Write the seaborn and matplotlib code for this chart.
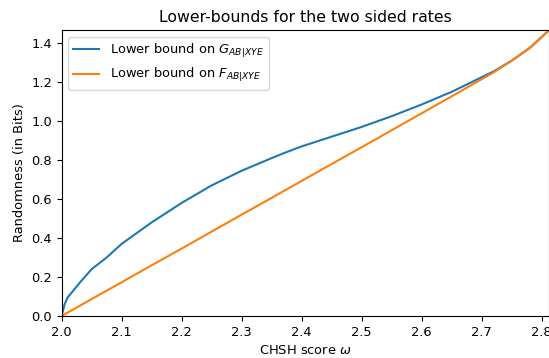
import numpy as np
import pandas as pd
import seaborn as sns
import matplotlib
matplotlib.use('Agg')
import matplotlib.pyplot as plt

# CHSH score samples and lower bounds
chsh = [2.0, 2.005, 2.01, 2.03, 2.05, 2.075, 2.1, 2.15, 2.2, 2.25, 2.3, 2.35, 2.37,
        2.4, 2.45, 2.5, 2.55, 2.6, 2.65, 2.7, 2.72, 2.75, 2.78, 2.81, 2.828]
g_bound = [0.0, 0.06, 0.095, 0.17, 0.24, 0.30, 0.37, 0.48, 0.58, 0.67, 0.745, 0.81, 0.835,
           0.87, 0.92, 0.97, 1.025, 1.085, 1.15, 1.225, 1.255, 1.31, 1.375, 1.46, 1.51]
f_bound = [0.0, 0.0087, 0.0173, 0.052, 0.087, 0.13, 0.173, 0.26, 0.346, 0.433, 0.52, 0.606, 0.641,
           0.693, 0.78, 0.866, 0.953, 1.04, 1.127, 1.215, 1.25, 1.31, 1.375, 1.46, 1.51]

df = pd.DataFrame({
    'omega': chsh * 2,
    'rand': g_bound + f_bound,
    'which': [r'Lower bound on $G_{AB|XYE}$'] * len(chsh) + [r'Lower bound on $F_{AB|XYE}$'] * len(chsh),
})

plt.rcParams['font.size'] = 9.4
plt.rcParams['axes.titlesize'] = 11.3

fig = plt.figure(figsize=(5.49, 3.58), dpi=100)
ax = fig.add_axes([61.6 / 549, 42 / 358, (549 - 61.6) / 549, 286 / 358])
sns.lineplot(data=df, x='omega', y='rand', hue='which', palette=['tab:blue', 'tab:orange'],
             ax=ax, linewidth=1.5)
ax.set_xlim(2.0, 2.812)
ax.set_ylim(0, 1.467)
ax.set_title('Lower-bounds for the two sided rates')
ax.set_xlabel(r'CHSH score $\omega$')
ax.set_ylabel('Randomness (in Bits)')
ax.legend(loc='upper left')
fig.savefig('out.png', dpi=100)
